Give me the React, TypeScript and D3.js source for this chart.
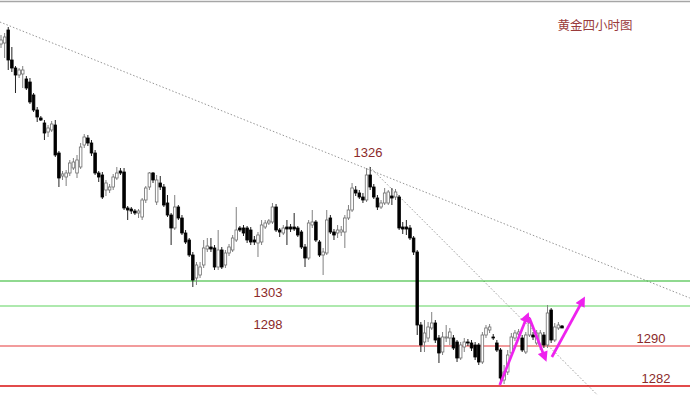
import * as d3 from "d3";
import { useEffect, useRef } from "react";

// 4h gold candles, oldest first
const opens = [1350.4,1350.6,1353.2,1347.2,1345.6,1344.2,1344.4,1343.4,1342.8,1340.2,1337.2,1335.6,1334.6,1332.8,1333.2,1334.2,1328.6,1324.0,1323.8,1324.6,1325.6,1324.6,1325.8,1330.2,1331.6,1330.6,1328.6,1324.6,1324.2,1321.2,1321.2,1321.8,1323.6,1325.0,1324.8,1317.6,1317.4,1317.0,1316.6,1315.8,1319.2,1321.8,1324.6,1318.8,1322.6,1321.8,1318.6,1316.2,1313.6,1317.8,1315.6,1312.6,1311.2,1308.2,1303.6,1304.2,1306.2,1309.4,1309.8,1309.6,1305.8,1309.2,1306.2,1308.6,1309.2,1311.2,1313.6,1313.6,1313.6,1313.2,1311.2,1310.6,1310.8,1313.8,1314.6,1314.8,1317.8,1313.2,1312.6,1313.8,1313.8,1313.8,1313.6,1312.8,1309.8,1307.6,1314.2,1314.8,1310.8,1308.2,1308.6,1315.6,1312.8,1312.6,1312.8,1312.8,1315.6,1317.2,1321.2,1320.6,1319.8,1319.2,1324.2,1321.8,1319.6,1317.8,1318.6,1318.6,1320.0,1319.8,1319.8,1313.8,1313.8,1313.6,1311.6,1308.8,1294.2,1290.8,1291.6,1293.6,1294.6,1291.6,1288.8,1291.6,1291.6,1291.6,1290.8,1287.6,1289.8,1290.8,1290.6,1290.2,1290.2,1286.8,1292.2,1293.2,1291.8,1290.6,1289.2,1283.2,1284.8,1288.6,1291.6,1292.4,1291.6,1288.8,1292.2,1292.2,1290.6,1290.2,1292.2,1290.2,1297.2,1291.2,1293.6,1294.0];
const highs = [1352.2,1352.6,1353.8,1349.8,1346.0,1345.6,1346.0,1344.0,1343.6,1340.6,1337.8,1336.0,1335.2,1334.2,1335.0,1335.2,1329.0,1325.0,1325.2,1327.2,1327.6,1328.2,1330.6,1332.4,1332.2,1331.2,1329.2,1325.0,1324.8,1323.2,1322.4,1324.4,1325.8,1325.6,1325.6,1318.0,1317.8,1317.4,1317.4,1319.6,1322.0,1324.8,1324.8,1324.2,1324.0,1322.4,1320.2,1316.6,1320.2,1318.2,1316.2,1313.2,1311.6,1308.8,1306.8,1306.8,1311.2,1311.6,1311.6,1310.2,1313.2,1309.8,1309.2,1310.4,1312.2,1317.8,1314.0,1314.2,1314.0,1313.8,1312.0,1312.8,1315.2,1315.2,1315.4,1318.6,1318.4,1313.6,1314.2,1315.2,1314.4,1316.6,1314.0,1313.2,1310.4,1315.2,1317.2,1315.2,1311.2,1309.6,1317.2,1316.2,1313.4,1314.2,1314.0,1316.2,1318.2,1322.6,1322.0,1321.2,1320.6,1325.6,1325.8,1322.4,1320.2,1319.2,1321.6,1321.2,1321.6,1321.4,1320.2,1314.8,1315.2,1314.2,1312.0,1309.2,1294.8,1295.2,1294.8,1296.8,1295.2,1292.2,1292.8,1294.2,1293.6,1292.2,1291.2,1290.8,1291.6,1291.4,1291.2,1290.8,1290.6,1292.8,1294.2,1294.4,1292.4,1291.2,1289.6,1286.2,1289.2,1292.6,1293.2,1293.4,1292.2,1292.8,1295.8,1292.8,1293.2,1293.2,1292.8,1298.2,1297.6,1294.6,1294.8,1294.2];
const lows = [1349.6,1347.6,1345.2,1344.8,1340.6,1343.6,1341.6,1341.2,1338.4,1336.8,1334.8,1335.0,1331.2,1331.8,1332.8,1327.8,1321.8,1323.2,1322.0,1324.0,1325.2,1323.6,1325.4,1329.6,1330.0,1328.0,1324.2,1322.8,1319.4,1320.0,1320.6,1321.2,1323.2,1324.2,1317.2,1315.2,1316.4,1316.2,1315.6,1315.2,1318.6,1321.2,1322.6,1318.2,1321.2,1317.8,1315.8,1310.2,1313.2,1315.2,1312.2,1310.4,1307.8,1301.8,1302.2,1303.6,1305.6,1308.8,1308.8,1305.2,1305.2,1305.4,1305.6,1308.0,1308.8,1310.8,1312.8,1312.0,1310.6,1310.2,1310.2,1307.8,1310.2,1313.4,1314.2,1314.4,1312.8,1311.8,1312.2,1310.2,1312.8,1313.0,1311.8,1309.4,1305.8,1307.2,1313.6,1310.8,1307.8,1304.2,1308.2,1312.4,1311.2,1311.6,1312.0,1309.6,1315.2,1316.8,1320.0,1319.4,1318.6,1318.8,1321.2,1319.4,1317.2,1317.4,1318.2,1318.2,1318.2,1319.2,1313.2,1312.4,1312.2,1311.2,1308.2,1292.2,1288.8,1288.8,1290.8,1293.2,1290.6,1286.6,1288.2,1290.8,1290.2,1289.2,1286.8,1287.2,1288.8,1290.0,1289.0,1287.2,1286.2,1286.4,1291.6,1292.6,1291.2,1288.8,1282.2,1282.4,1284.2,1288.0,1291.0,1292.0,1288.8,1288.4,1291.8,1291.2,1290.2,1289.2,1289.6,1289.6,1290.6,1290.8,1293.2,1293.6];
const closes = [1351.2,1351.8,1347.2,1345.6,1344.2,1345.2,1345.2,1341.6,1338.8,1337.2,1335.8,1335.2,1332.6,1333.6,1334.4,1328.2,1323.6,1324.4,1324.6,1326.6,1326.8,1327.2,1329.8,1331.8,1330.6,1328.6,1324.6,1323.8,1319.8,1322.6,1321.8,1323.8,1324.6,1324.6,1317.6,1317.2,1317.0,1316.6,1317.0,1319.2,1321.6,1324.6,1323.2,1323.2,1321.8,1318.2,1316.2,1313.6,1317.8,1315.6,1312.6,1310.8,1308.2,1303.2,1306.2,1305.8,1309.6,1310.0,1309.4,1305.8,1309.2,1305.8,1308.6,1309.8,1311.6,1313.2,1313.2,1312.6,1311.2,1310.8,1310.8,1312.2,1314.2,1314.6,1315.0,1317.8,1313.2,1312.8,1313.6,1313.4,1313.4,1313.4,1312.2,1309.8,1307.6,1314.6,1314.8,1311.2,1308.2,1308.8,1315.2,1312.8,1312.2,1313.2,1313.2,1315.6,1317.2,1321.6,1320.6,1319.8,1319.2,1324.2,1321.8,1319.8,1317.8,1318.6,1320.6,1320.8,1319.6,1320.8,1313.6,1313.4,1313.4,1311.6,1308.8,1294.2,1290.2,1292.6,1293.8,1294.6,1291.2,1288.6,1291.8,1291.8,1292.8,1289.6,1287.6,1290.2,1290.8,1290.6,1289.6,1287.8,1286.8,1292.2,1293.6,1293.8,1291.6,1289.2,1283.6,1284.8,1288.2,1291.8,1292.6,1292.8,1289.2,1292.2,1294.6,1291.8,1292.6,1292.6,1290.2,1296.6,1291.2,1293.8,1294.2,1293.6];

// support / resistance levels
const levels = [1303, 1298, 1290, 1282];
const levelColors = ["#22b322", "#5fd35f", "#e5383b", "#d90f0f"];

// dotted trend lines, [candle index, price]
const trendLong = [[-0.3, 1354.8], [190.3, 1299.6]];
const trendShort = [[101.9, 1325.8], [167, 1278.6]];

// hand drawn arrows, [candle index, price]
const arrows = [
  [[137.8, 1282.2], [145.4, 1296.0]],
  [[146.0, 1295.6], [150.3, 1287.6]],
  [[152.2, 1287.8], [160.8, 1299.2]],
];

const peakLabel = "1326";
const title = "黄金四小时图";

const App = () => {
  const ref = useRef<HTMLDivElement>(null);

  useEffect(() => {
    const width = 690, height = 395;
    d3.select(ref.current).selectAll("*").remove();
    const svg = d3.select(ref.current)
      .append("svg")
      .attr("width", width)
      .attr("height", height)
      .style("position", "absolute")
      .style("left", "0px")
      .style("top", "0px")
      .style("background", "#fff");

    const x = d3.scaleLinear().domain([0, opens.length - 1]).range([1, 562]);
    const y = d3.scaleLinear().domain([1282, 1326]).range([386, 166]);
    const bw = 2.6;

    svg.append("line")
      .attr("x1", 0).attr("x2", width).attr("y1", 1.5).attr("y2", 1.5)
      .attr("stroke", "#a6a6a6").attr("stroke-width", 1.5);

    // trend lines
    [trendLong, trendShort].forEach(t => {
      svg.append("line")
        .attr("x1", x(t[0][0])).attr("y1", y(t[0][1]))
        .attr("x2", x(t[1][0])).attr("y2", y(t[1][1]))
        .attr("stroke", "#8a8a8a")
        .attr("stroke-width", 0.9)
        .attr("stroke-dasharray", "1.5,2");
    });

    // levels
    svg.append("g").selectAll("line")
      .data(levels)
      .enter().append("line")
      .attr("x1", 0).attr("x2", width)
      .attr("y1", d => y(d)).attr("y2", d => y(d))
      .attr("stroke", (d, i) => levelColors[i])
      .attr("stroke-width", (d, i) => (i == 3 ? 1.6 : 1.1));

    const idx = d3.range(opens.length);
    const g = svg.append("g");
    g.selectAll("line")
      .data(idx)
      .enter().append("line")
      .attr("x1", i => x(i)).attr("x2", i => x(i))
      .attr("y1", i => y(highs[i])).attr("y2", i => y(lows[i]))
      .attr("stroke", i => (closes[i] < opens[i] ? "#222" : "#808080"))
      .attr("stroke-width", 1);
    g.selectAll("rect")
      .data(idx)
      .enter().append("rect")
      .attr("x", i => x(i) - bw / 2)
      .attr("width", bw)
      .attr("y", i => y(Math.max(opens[i], closes[i])))
      .attr("height", i => Math.max(1, Math.abs(y(opens[i]) - y(closes[i]))))
      .attr("fill", i => (closes[i] < opens[i] ? "#000" : "#fff"))
      .attr("stroke", i => (closes[i] < opens[i] ? "#000" : "#6e6e6e"))
      .attr("stroke-width", 0.8);

    // arrows
    const defs = svg.append("defs");
    defs.append("marker")
      .attr("id", "head")
      .attr("viewBox", "0 0 10 10")
      .attr("refX", 6).attr("refY", 5)
      .attr("markerWidth", 4.4).attr("markerHeight", 3.8)
      .attr("markerUnits", "strokeWidth")
      .attr("orient", "auto")
      .append("path")
      .attr("d", "M0,0 L10,5 L0,10 Z")
      .attr("fill", "#ee22ee");
    svg.append("g").selectAll("line")
      .data(arrows)
      .enter().append("line")
      .attr("x1", a => x(a[0][0])).attr("y1", a => y(a[0][1]))
      .attr("x2", a => x(a[1][0])).attr("y2", a => y(a[1][1]))
      .attr("stroke", "#ee22ee")
      .attr("stroke-width", 2.7)
      .attr("marker-end", "url(#head)");

    // labels
    const lab = svg.append("g")
      .attr("font-family", "'Liberation Sans', Arial, sans-serif")
      .attr("font-size", 13)
      .attr("fill", "#8b2a2a")
      .attr("text-anchor", "middle");
    lab.append("text").attr("x", 268).attr("y", y(levels[0]) + 16).text(levels[0]);
    lab.append("text").attr("x", 268).attr("y", y(levels[1]) + 23).text(levels[1]);
    lab.append("text").attr("x", 651).attr("y", y(levels[2]) - 3).text(levels[2]);
    lab.append("text").attr("x", 656).attr("y", y(levels[3]) - 3).text(levels[3]);
    lab.append("text").attr("x", 368).attr("y", 157).text(peakLabel);

    svg.append("text")
      .attr("x", 595).attr("y", 30)
      .attr("text-anchor", "middle")
      .attr("font-family", "'Noto Sans CJK SC', sans-serif")
      .attr("font-size", 12.5)
      .attr("fill", "#9a3b3b")
      .text(title);
  }, []);

  return <div ref={ref}></div>;
};

export default App;
